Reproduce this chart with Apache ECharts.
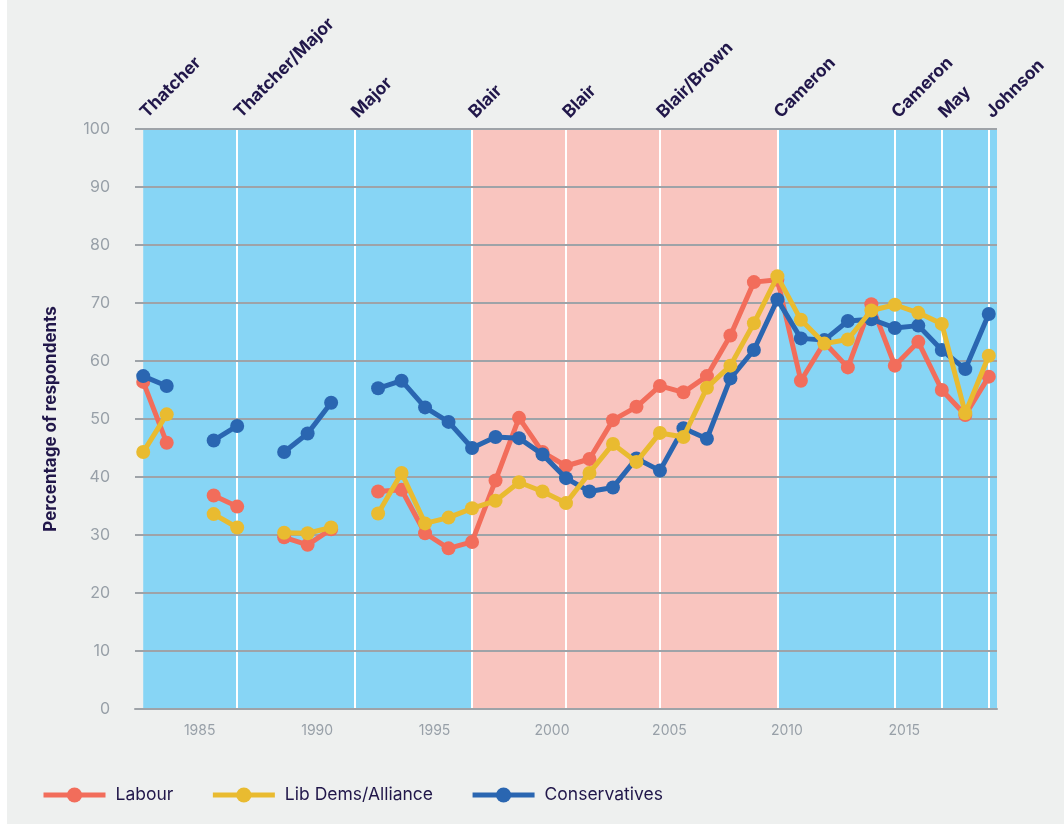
<!DOCTYPE html>
<html>
<head>
<meta charset="utf-8">
<script src="https://cdn.jsdelivr.net/npm/echarts@6/dist/echarts.min.js"></script>
<style>
  html, body { margin: 0; padding: 0; background: #ffffff; }
  #chart { width: 1064px; height: 824px; }
</style>
</head>
<body>
<div id="chart"></div>
<script>
// survey years (no survey in 1985, 1988, 1992)
var years = [1983, 1984, 1985, 1986, 1987, 1988, 1989, 1990, 1991, 1992, 1993, 1994, 1995, 1996, 1997, 1998, 1999,
    2000, 2001, 2002, 2003, 2004, 2005, 2006, 2007, 2008, 2009, 2010, 2011, 2012, 2013, 2014, 2015, 2016, 2017, 2018, 2019];
var labour = [56.4, 45.9, null, 36.8, 34.9, null, 29.6, 28.3, 31.0, null, 37.5, 37.8, 30.3, 27.7, 28.8, 39.4, 50.2,
    44.3, 41.9, 43.1, 49.8, 52.1, 55.7, 54.6, 57.4, 64.4, 73.6, 74.0, 56.6, 63.2, 58.9, 69.8, 59.2, 63.3, 55.0, 50.7, 57.3];
var libDems = [44.3, 50.8, null, 33.6, 31.3, null, 30.4, 30.3, 31.3, null, 33.7, 40.7, 32.0, 33.0, 34.6, 35.9, 39.1,
    37.5, 35.5, 40.7, 45.7, 42.6, 47.6, 46.9, 55.4, 59.2, 66.5, 74.6, 67.1, 63.0, 63.7, 68.7, 69.7, 68.3, 66.4, 51.0, 60.9];
var conservatives = [57.4, 55.7, null, 46.3, 48.8, null, 44.3, 47.5, 52.8, null, 55.3, 56.6, 52.0, 49.5, 45.0, 46.9, 46.7,
    43.9, 39.8, 37.5, 38.2, 43.2, 41.1, 48.4, 46.6, 57.0, 61.9, 70.6, 63.9, 63.6, 66.9, 67.2, 65.7, 66.1, 61.9, 58.6, 68.1];

// governments
var govStarts = [1983, 1987, 1992, 1997, 2001, 2005, 2010, 2015, 2017, 2019];
var govNames = ['Thatcher', 'Thatcher/Major', 'Major', 'Blair', 'Blair', 'Blair/Brown', 'Cameron', 'Cameron', 'May', 'Johnson'];
var govParty = ['con', 'con', 'con', 'lab', 'lab', 'lab', 'con', 'con', 'con', 'con'];

var yearTicks = [1985, 1990, 1995, 2000, 2005, 2010, 2015];

var xMin = 1982.65, xMax = 2019.35;
var navy = '#21174a';
var gray = '#9ea3a8';
var font = 'Inter';

function pairs(values) {
    return years.map(function (y, i) { return [y, values[i]]; });
}

var bands = govStarts.map(function (start, i) {
    var end = i < govStarts.length - 1 ? govStarts[i + 1] : xMax;
    return [
        {xAxis: start, itemStyle: {color: govParty[i] === 'lab' ? '#f9c5bf' : '#87d5f5'}},
        {xAxis: end}
    ];
});

var chart = echarts.init(document.getElementById('chart'));
chart.setOption({
    backgroundColor: '#eef0ef',
    textStyle: {fontFamily: font},
    animation: false,
    graphic: [{
        type: 'rect', left: 0, top: 0, z: 0,
        shape: {width: 7, height: 824},
        style: {fill: '#ffffff'}
    }],
    grid: {left: 135, right: 67, top: 129, bottom: 115},
    legend: {
        data: ['Labour', 'Lib Dems/Alliance', 'Conservatives'],
        left: 36,
        top: 781,
        itemWidth: 62,
        itemHeight: 19,
        itemGap: 37,
        lineStyle: {width: 5},
        textStyle: {color: navy, fontSize: 17.5, fontFamily: font, padding: [0, 0, 0, 5]}
    },
    xAxis: [{
        type: 'value',
        min: xMin,
        max: xMax,
        z: 2,
        axisLine: {show: true, lineStyle: {color: gray, width: 2}},
        axisTick: {show: false},
        splitLine: {show: false},
        axisLabel: {
            customValues: yearTicks,
            color: '#98a0a8',
            fontSize: 14,
            margin: 15,
            padding: [0, 0, 0, 19],
            formatter: function (v) { return String(v); }
        }
    }, {
        type: 'value',
        position: 'top',
        min: xMin,
        max: xMax,
        z: 2,
        axisLine: {show: false},
        axisTick: {show: false},
        splitLine: {show: false},
        axisLabel: {
            customValues: govStarts,
            rotate: -45,
            margin: 14,
            color: navy,
            fontSize: 17.5,
            fontWeight: 'bold',
            formatter: function (v) { return govNames[govStarts.indexOf(v)]; }
        }
    }],
    yAxis: {
        type: 'value',
        min: 0,
        max: 100,
        interval: 10,
        z: 2,
        name: 'Percentage of respondents',
        nameLocation: 'middle',
        nameGap: 76,
        nameTextStyle: {color: navy, fontSize: 17, fontWeight: 'bold', fontFamily: font},
        axisLine: {show: false},
        axisTick: {show: false},
        axisLabel: {color: '#98a0a8', fontSize: 16, margin: 25},
        splitLine: {lineStyle: {color: gray, width: 2}}
    },
    series: [{
        name: 'governments',
        type: 'line',
        data: [],
        markArea: {silent: true, z: 1, data: bands},
        markLine: {
            silent: true,
            z: 1.5,
            symbol: 'none',
            label: {show: false},
            lineStyle: {color: '#ffffff', width: 2, type: 'solid'},
            data: govStarts.slice(1).map(function (v) { return {xAxis: v}; })
        }
    }, {
        name: 'Labour',
        type: 'line',
        z: 3,
        data: pairs(labour),
        symbol: 'circle',
        symbolSize: 14,
        color: '#f26d5b',
        lineStyle: {width: 5}
    }, {
        name: 'Lib Dems/Alliance',
        type: 'line',
        z: 5,
        data: pairs(libDems),
        symbol: 'circle',
        symbolSize: 14,
        color: '#e9bb30',
        lineStyle: {width: 5}
    }, {
        name: 'Conservatives',
        type: 'line',
        z: 4,
        data: pairs(conservatives),
        symbol: 'circle',
        symbolSize: 14,
        color: '#2a66b1',
        lineStyle: {width: 5}
    }]
});
</script>
</body>
</html>
